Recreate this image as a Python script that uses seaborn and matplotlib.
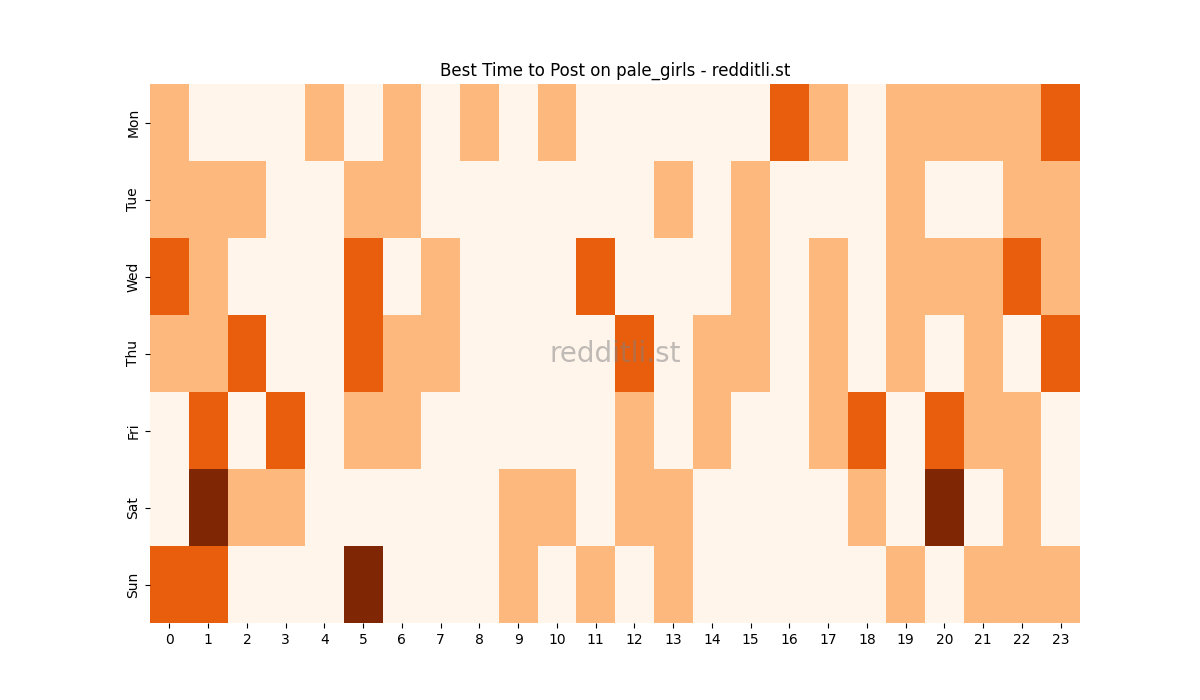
import numpy as np
import pandas as pd
import matplotlib
matplotlib.use("Agg")
import matplotlib.pyplot as plt
import seaborn as sns

# Posting activity level per weekday (rows) and hour (columns), 0-3
days = ["Mon", "Tue", "Wed", "Thu", "Fri", "Sat", "Sun"]
hours = list(range(24))

mon = [1, 0, 0, 0, 1, 0, 1, 0, 1, 0, 1, 0, 0, 0, 0, 0, 2, 1, 0, 1, 1, 1, 1, 2]
tue = [1, 1, 1, 0, 0, 1, 1, 0, 0, 0, 0, 0, 0, 1, 0, 1, 0, 0, 0, 1, 0, 0, 1, 1]
wed = [2, 1, 0, 0, 0, 2, 0, 1, 0, 0, 0, 2, 0, 0, 0, 1, 0, 1, 0, 1, 1, 1, 2, 1]
thu = [1, 1, 2, 0, 0, 2, 1, 1, 0, 0, 0, 0, 2, 0, 1, 1, 0, 1, 0, 1, 0, 1, 0, 2]
fri = [0, 2, 0, 2, 0, 1, 1, 0, 0, 0, 0, 0, 1, 0, 1, 0, 0, 1, 2, 0, 2, 1, 1, 0]
sat = [0, 3, 1, 1, 0, 0, 0, 0, 0, 1, 1, 0, 1, 1, 0, 0, 0, 0, 1, 0, 3, 0, 1, 0]
sun = [2, 2, 0, 0, 0, 3, 0, 0, 0, 1, 0, 1, 0, 1, 0, 0, 0, 0, 0, 1, 0, 1, 1, 1]

df = pd.DataFrame([mon, tue, wed, thu, fri, sat, sun], index=days, columns=hours)

fig, ax = plt.subplots(figsize=(12, 7), dpi=100)
sns.heatmap(df, cmap="Oranges", vmin=0, vmax=3, cbar=False, ax=ax)
ax.set_title("Best Time to Post on pale_girls - redditli.st")
ax.set_xlabel("")
ax.set_ylabel("")
ax.tick_params(axis="x", rotation=0)

# watermark
ax.text(0.5, 0.5, "redditli.st", transform=ax.transAxes, fontsize=20,
        color="gray", alpha=0.5, ha="center", va="center")

fig.savefig("out.png", dpi=100)
